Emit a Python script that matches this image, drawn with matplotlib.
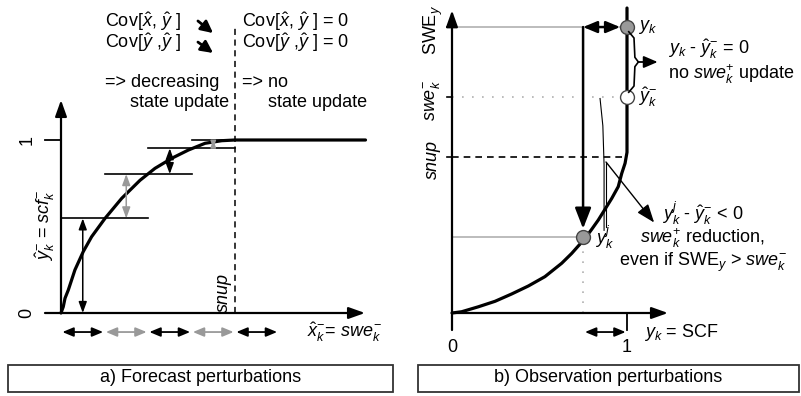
import matplotlib
matplotlib.use("Agg")
import matplotlib.pyplot as plt
from matplotlib.patches import Rectangle

plt.rcParams['font.family'] = ['Liberation Sans', 'DejaVu Sans']
plt.rcParams['mathtext.fontset'] = 'custom'
plt.rcParams['mathtext.rm'] = 'Liberation Sans'
plt.rcParams['mathtext.it'] = 'Liberation Sans:italic'
plt.rcParams['mathtext.bf'] = 'Liberation Sans:bold'

FS = 13
GRAY = '#999999'
LGRAY = '#b0b0b0'

# ---- a) forecast perturbations: scf vs swe (swe in units of snup)
swe_a = [0, 0.013, 0.023, 0.042, 0.080, 0.128, 0.176, 0.253, 0.349, 0.454,
         0.540, 0.636, 0.732, 0.828, 0.924, 1.0, 1.75]
scf_a = [0, 0.036, 0.085, 0.133, 0.249, 0.355, 0.441, 0.547, 0.663, 0.767,
         0.836, 0.894, 0.942, 0.981, 0.996, 1.0, 1.0]
ens_centre = [0.25, 0.5, 0.75, 1.0]
ens_scf = [0.547, 0.803, 0.952, 1.0]
pert_edges = [0, 0.25, 0.5, 0.75, 1.0, 1.25]
pert_colors = ['black', GRAY, 'black', GRAY, 'black']

# ---- b) observation perturbations: SWE vs SCF
scf_b = [0, 0.055, 0.151, 0.246, 0.341, 0.436, 0.531, 0.627, 0.684, 0.760,
         0.798, 0.836, 0.913, 0.950, 0.970, 0.989, 1.0, 1.0]
swe_b = [0, 0.008, 0.040, 0.075, 0.122, 0.173, 0.233, 0.319, 0.382, 0.478,
         0.536, 0.596, 0.735, 0.810, 0.895, 0.960, 1.03, 1.955]
swe_obs = 1.833      # SWE_y
swe_prior = 1.385    # swe_k^-
snup = 1.0
y_obs = 1.0          # y_k
y_pert = 0.749       # y_k^j
swe_pert = 0.487


def arrow(ax, p0, p1, style='-|>', color='black', lw=1.2, ms=12, sa=0, sb=0):
    ax.annotate('', xy=p1, xytext=p0,
                arrowprops=dict(arrowstyle=style, color=color, lw=lw,
                                mutation_scale=ms, shrinkA=sa, shrinkB=sb))


fig = plt.figure(figsize=(8.01, 3.96), dpi=100)

# left panel, limits chosen so 1 unit ~ 174 px (x) / 173 px (y)
axa = fig.add_axes([0, 0, 400 / 801, 1])
axa.set_xlim(-61 / 174, 339 / 174)
axa.set_ylim(-83 / 173, 313 / 173)
axa.axis('off')

arrow(axa, (0, 0), (0, 1.231), lw=1.6, ms=14, style='-|>,head_length=0.7,head_width=0.25')
arrow(axa, (-0.092, 0), (1.747, 0), lw=1.6, ms=14, style='-|>,head_length=0.7,head_width=0.25')
axa.plot([-0.092, 0], [1, 1], color='black', lw=1.3)
axa.text(-0.195, 1.0, '1', fontsize=FS, rotation=90, ha='center', va='center')
axa.text(-0.195, 0.0, '0', fontsize=FS, rotation=90, ha='center', va='center')
axa.text(-0.092, 0.509, r'$\hat{y}_k^{-}$ = $scf_k^{-}$', fontsize=FS, rotation=90,
         ha='center', va='center')
axa.text(1.414, -0.11, r'$\hat{x}_k^{-}$= $swe_k^{-}$', fontsize=FS, ha='left', va='center')

axa.plot([snup, snup], [0, 1.65], color='black', lw=1.1, ls=(0, (4, 3)))
axa.text(0.931, 0.116, 'snup', fontsize=FS, style='italic', rotation=90,
         ha='center', va='center')

for c, s in zip(ens_centre, ens_scf):
    axa.plot([c - 0.25, c + 0.25], [s, s], color='black', lw=1.2)

lower = [0] + ens_scf[:-1]
for i in range(len(ens_scf)):
    xm = (pert_edges[i] + pert_edges[i + 1]) / 2
    ms = 11 if ens_scf[i] - lower[i] > 0.1 else 7
    arrow(axa, (xm, lower[i]), (xm, ens_scf[i]), style='<|-|>,head_length=0.6,head_width=0.22',
          color=pert_colors[i], lw=1.1, ms=ms)

for i in range(len(pert_colors)):
    arrow(axa, (pert_edges[i], -0.11), (pert_edges[i + 1], -0.11),
          style='<|-|>,head_length=0.6,head_width=0.25', color=pert_colors[i],
          lw=1.3, ms=11, sa=1, sb=1)

axa.plot(swe_a, scf_a, color='black', lw=2.3, solid_capstyle='round')

axa.text(0.253, 1.682, r'Cov[$\hat{x}$, $\hat{y}$ ]', fontsize=FS, ha='left', va='center')
axa.text(0.253, 1.561, r'Cov[$\hat{y}$ ,$\hat{y}$ ]', fontsize=FS, ha='left', va='center')
axa.text(1.040, 1.682, r'Cov[$\hat{x}$, $\hat{y}$ ] = 0', fontsize=FS, ha='left', va='center')
axa.text(1.040, 1.561, r'Cov[$\hat{y}$ ,$\hat{y}$ ] = 0', fontsize=FS, ha='left', va='center')
arrow(axa, (0.787, 1.688), (0.874, 1.618), lw=2.0, ms=12, style='-|>,head_length=0.6,head_width=0.3')
arrow(axa, (0.787, 1.566), (0.874, 1.503), lw=2.0, ms=12, style='-|>,head_length=0.6,head_width=0.3')
axa.text(0.253, 1.335, '=> decreasing', fontsize=FS, ha='left', va='center')
axa.text(0.397, 1.214, 'state update', fontsize=FS, ha='left', va='center')
axa.text(1.040, 1.335, '=> no', fontsize=FS, ha='left', va='center')
axa.text(1.190, 1.214, 'state update', fontsize=FS, ha='left', va='center')

# right panel, 1 unit ~ 175 px (x) / 156 px (y)
axb = fig.add_axes([400 / 801, 0, 401 / 801, 1])
axb.set_xlim(-52 / 175, 349 / 175)
axb.set_ylim(-83 / 156, 313 / 156)
axb.axis('off')

arrow(axb, (0, -0.109), (0, 1.94), lw=1.6, ms=14, style='-|>,head_length=0.7,head_width=0.25')
arrow(axb, (0, 0), (1.234, 0), lw=1.6, ms=14, style='-|>,head_length=0.7,head_width=0.25')
for v in [swe_obs, swe_prior, snup]:
    axb.plot([-0.03, 0], [v, v], color='black', lw=1.2)
axb.plot([y_obs, y_obs], [0, -0.109], color='black', lw=1.3)
axb.text(0, -0.218, '0', fontsize=FS, ha='center', va='center')
axb.text(y_obs, -0.218, '1', fontsize=FS, ha='center', va='center')
arrow(axb, (0.76, -0.122), (y_obs, -0.122), style='<|-|>,head_length=0.6,head_width=0.25',
      lw=1.3, ms=11, sa=0, sb=1)
axb.text(1.10, -0.122, r'$y_k$ = SCF', fontsize=FS, ha='left', va='center')

axb.text(-0.109, 1.814, r'SWE$_y$', fontsize=FS, rotation=90, ha='center', va='center')
axb.text(-0.109, 1.365, r'$swe_k^{-}$', fontsize=FS, rotation=90, ha='center', va='center')
axb.text(-0.109, 0.981, 'snup', fontsize=FS, style='italic', rotation=90, ha='center', va='center')

axb.plot([0, y_obs], [swe_obs, swe_obs], color=LGRAY, lw=1.2)
axb.plot([0, y_obs], [swe_prior, swe_prior], color=LGRAY, lw=1.2, ls=(0, (1, 5)))
axb.plot([0, y_obs], [snup, snup], color='black', lw=1.2, ls=(0, (4, 3)))
axb.plot([0, y_pert], [swe_pert, swe_pert], color=LGRAY, lw=1.2)
axb.plot([y_pert, y_pert], [0, swe_pert], color=LGRAY, lw=1.2, ls=(0, (1, 5)))

axb.plot(scf_b, swe_b, color='black', lw=2.3, solid_capstyle='round')

arrow(axb, (y_pert, swe_obs), (y_pert, swe_pert), lw=1.8, ms=14,
      style='-|>,head_length=0.9,head_width=0.35', sa=0, sb=6)
arrow(axb, (y_pert, swe_obs), (y_obs, swe_obs), lw=1.8, ms=14,
      style='<|-|>,head_length=0.6,head_width=0.25', sa=0, sb=5)

axb.plot([y_obs], [swe_obs], 'o', ms=10, mfc=GRAY, mec='#444444', mew=1)
axb.plot([y_obs], [swe_prior], 'o', ms=10, mfc='white', mec='#444444', mew=1)
axb.plot([y_pert], [swe_pert], 'o', ms=10, mfc=GRAY, mec='#444444', mew=1)
axb.text(1.063, swe_obs, r'$y_k$', fontsize=FS, ha='left', va='center')
axb.text(1.063, swe_prior, r'$\hat{y}_k^{-}$', fontsize=FS, ha='left', va='center')
axb.text(0.817, swe_pert, r'$y_k^j$', fontsize=FS, ha='left', va='center')

# brace between y_k and prior estimate
mid = (swe_obs + swe_prior) / 2
axb.plot([1.01, 1.04, 1.045, 1.065, 1.045, 1.04, 1.01],
         [swe_obs - 0.03, swe_obs - 0.07, mid + 0.03, mid, mid - 0.03,
          swe_prior + 0.07, swe_prior + 0.03], color='black', lw=1.2)
arrow(axb, (1.065, mid), (1.175, mid), lw=1.3, ms=12, style='-|>,head_length=0.7,head_width=0.3')
axb.text(1.234, 1.612, '$y_k$ - $\\hat{y}_k^{-}$ = 0\nno $swe_k^{+}$ update', fontsize=FS,
         ha='left', va='center', linespacing=1.05)

# thin bracket from prior down to perturbed obs
axb.plot([0.846, 0.862, 0.869, 0.869], [swe_prior - 0.01, 1.2, 0.95, 0.53],
         color='black', lw=0.8)
axb.plot([0.88, 0.88], [0.96, 0.55], color='black', lw=0.8)
arrow(axb, (0.88, 0.968), (1.155, 0.58), lw=1.0, ms=14, style='-|>,head_length=0.8,head_width=0.3')
axb.text(1.434, 0.49, '$y_k^j$ - $\\hat{y}_k^{-}$ < 0\n$swe_k^{+}$ reduction,\n'
         'even if SWE$_y$ > $swe_k^{-}$', fontsize=FS, ha='center', va='center',
         multialignment='center', linespacing=1.0)

# caption boxes
for x0, w, label in [(8, 385, 'a) Forecast perturbations'),
                     (418, 381, 'b) Observation perturbations')]:
    fig.add_artist(Rectangle((x0 / 801, 4 / 396), w / 801, 27 / 396,
                             transform=fig.transFigure, fill=False,
                             edgecolor='#333333', lw=1.3))
    fig.text((x0 + w / 2) / 801, 18 / 396, label, fontsize=FS, ha='center', va='center')

fig.savefig('out.png', dpi=100)
